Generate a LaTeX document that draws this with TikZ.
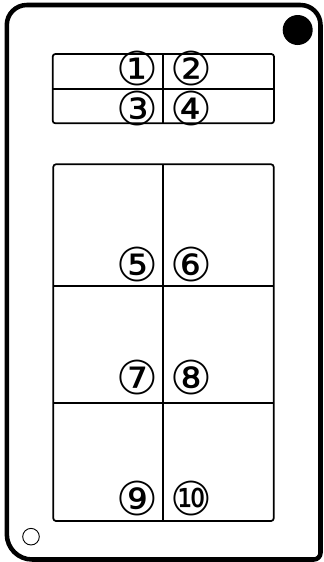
\documentclass[tikz,border=0pt]{standalone}
\usepackage{fontspec}
\newfontfamily\circfont{DejaVu Sans}
\begin{document}
\begin{tikzpicture}[x=0.75pt,y=-0.75pt,
  frame/.style={line width=3.4pt,line join=round},
  grid/.style={line width=1.3pt},
  num/.style={font=\circfont\fontsize{35}{35}\selectfont,inner sep=0pt}]
\useasboundingbox (0,0) rectangle (324,562);
% outer frame
\draw[frame,rounded corners=15] (6.8,280) -- (6.8,5) -- (320.5,5)
  [rounded corners=5] -- (320.5,559.5)
  [rounded corners=19] -- (6.8,559.5) -- cycle;
% holes
\fill (297.7,30) circle[radius=15];
\draw[line width=0.7pt] (31,536.7) circle[radius=8.3];
% upper grid
\draw[grid,rounded corners=2] (52.7,54) rectangle (274,123.3);
\draw[grid] (52.7,89.3) -- (274,89.3);
\draw[grid] (163.3,54) -- (163.3,123.3);
% lower grid
\draw[grid,rounded corners=2] (53.3,164.3) rectangle (273.7,521);
\draw[grid] (53.3,286) -- (273.7,286);
\draw[grid] (53.3,403) -- (273.7,403);
\draw[grid] (163.3,164.3) -- (163.3,521);
% numbers
\node[num] (n1) at (137,68) {①};
\node[num] (n2) at (191,68) {②};
\node[num] (n3) at (137,108) {③};
\node[num] (n4) at (191,108) {④};
\node[num] (n5) at (137,264) {⑤};
\node[num] (n6) at (191,264) {⑥};
\node[num] (n7) at (137,377) {⑦};
\node[num] (n8) at (191,377) {⑧};
\node[num] (n9) at (137,498) {⑨};
\node[num] (n10) at (191,498) {⑩};
\end{tikzpicture}
\end{document}
